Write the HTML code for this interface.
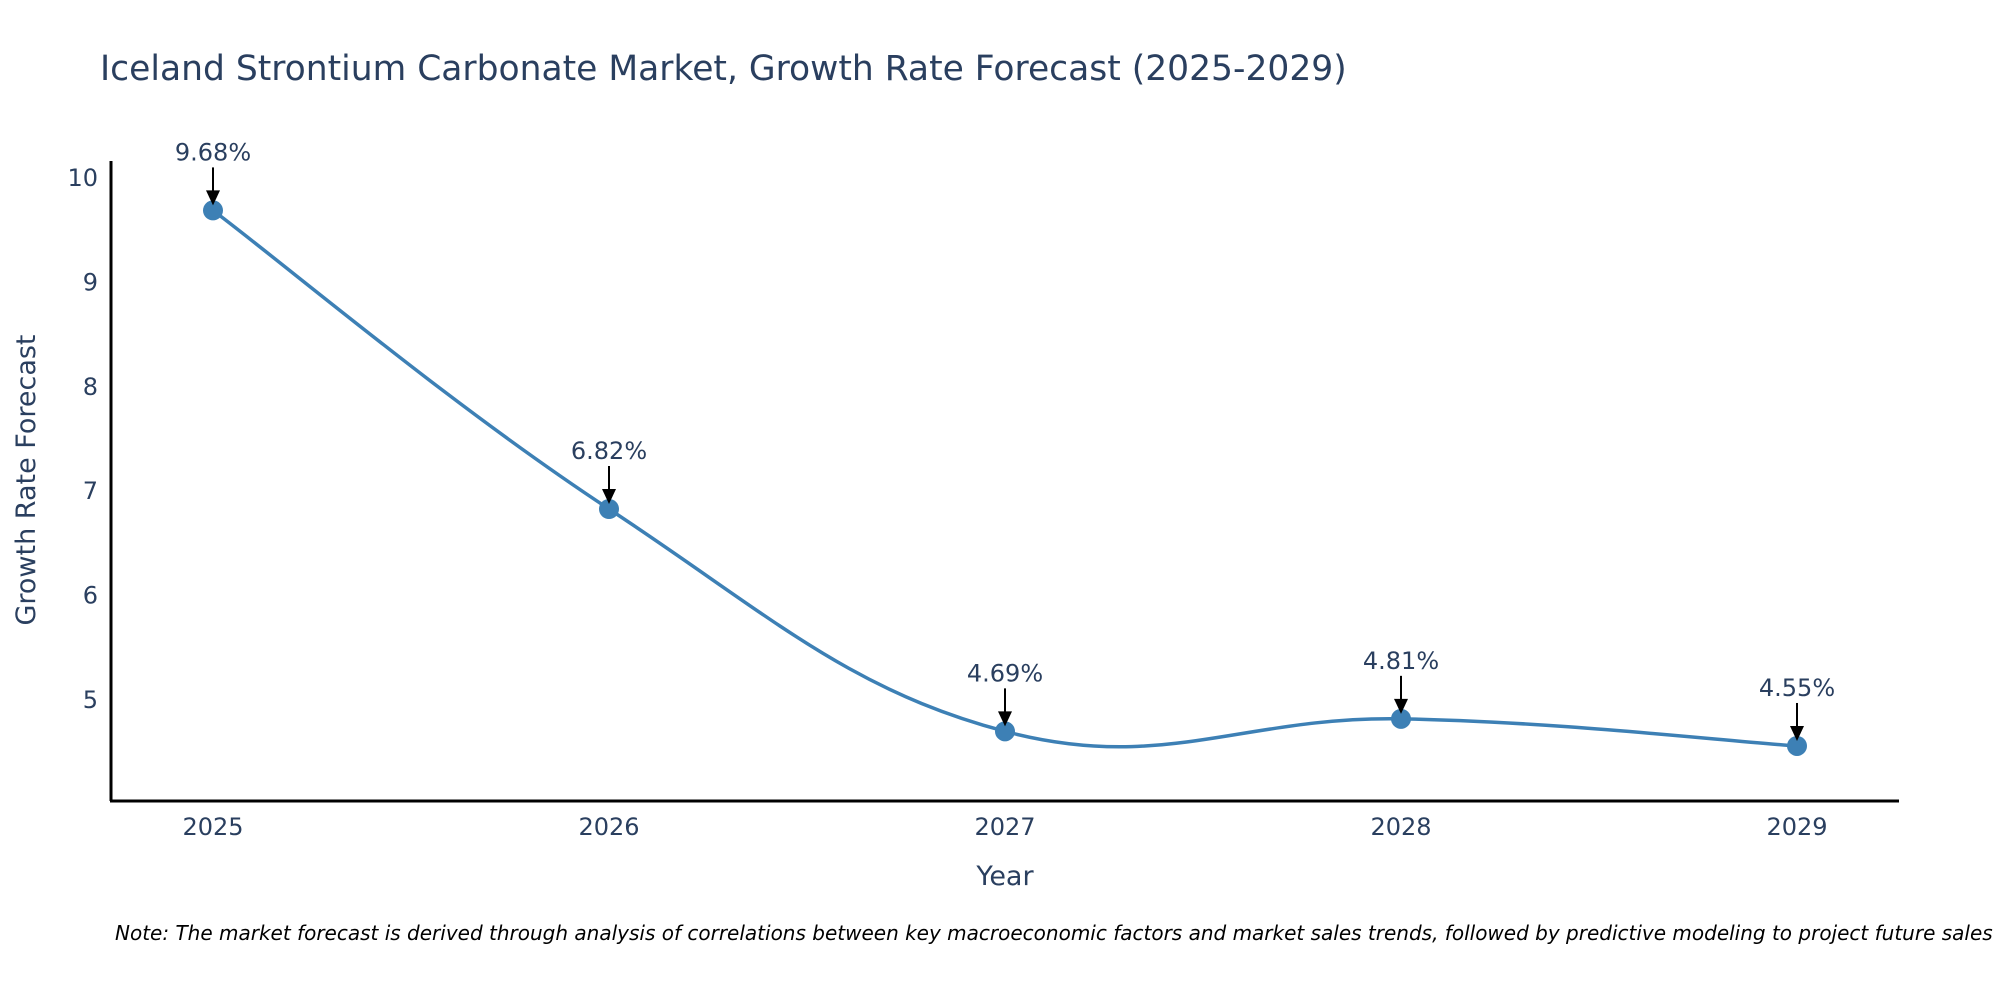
<!DOCTYPE html>
<html><head><meta charset="utf-8"><style>
body{margin:0;background:#fff;}
svg{display:block;font-family:"DejaVu Sans","Liberation Sans",sans-serif;}
</style></head><body>
<svg id="chart" width="2000" height="1000" viewBox="0 0 2000 1000">
<text x="100" y="80" font-size="34.5" fill="#2a3f5f">Iceland Strontium Carbonate Market, Growth Rate Forecast (2025-2029)</text>
<g id="plot"></g>
<text x="1005" y="885" font-size="27" fill="#2a3f5f" text-anchor="middle">Year</text>
<text x="0" y="0" font-size="27" fill="#2a3f5f" text-anchor="middle" transform="translate(35,480) rotate(-90)">Growth Rate Forecast</text>
<text x="115" y="940" font-size="20" font-style="italic" fill="#000">Note: The market forecast is derived through analysis of correlations between key macroeconomic factors and market sales trends, followed by predictive modeling to project future sales</text>
</svg>
<script>
const categories=["2025","2026","2027","2028","2029"];
const values=[9.68,6.82,4.69,4.81,4.55];
const yTicks=[5,6,7,8,9,10];
const labels=["9.68%","6.82%","4.69%","4.81%","4.55%"];
const NS="http://www.w3.org/2000/svg";
const g=document.getElementById('plot');
const x=i=>213+i*396;
const y=v=>699-(v-5)*104.4;
function el(t,a,p){const e=document.createElementNS(NS,t);for(const k in a)e.setAttribute(k,a[k]);(p||g).appendChild(e);return e;}
const ya=el('line',{x1:111,y1:161,x2:111,y2:801,stroke:'#000','stroke-width':3});


const xa=el('line',{x1:110,y1:801,x2:1899,y2:801,stroke:'#000','stroke-width':3});


yTicks.forEach(v=>{const t=el('text',{x:98,y:y(v)+9,'font-size':24,fill:'#2a3f5f','text-anchor':'end'});t.textContent=v;

});
categories.forEach((c,i)=>{const t=el('text',{x:x(i),y:835,'font-size':24,fill:'#2a3f5f','text-anchor':'middle'});t.textContent=c;

});
const P=values.map((v,i)=>[x(i),y(v)]);
let d=`M${P[0][0]},${P[0][1]}`;const s=0.2;
for(let i=0;i<P.length-1;i++){const p0=P[Math.max(i-1,0)],p1=P[i],p2=P[i+1],p3=P[Math.min(i+2,P.length-1)];
d+=` C${p1[0]+(p2[0]-p0[0])*s},${p1[1]+(p2[1]-p0[1])*s} ${p2[0]-(p3[0]-p1[0])*s},${p2[1]-(p3[1]-p1[1])*s} ${p2[0]},${p2[1]}`;}
const line=el('path',{d:d,fill:'none',stroke:'#3d80b5','stroke-width':3.5});


P.forEach((p,i)=>{const c=el('circle',{cx:p[0],cy:p[1],r:10,fill:'#3d80b5'});


const a=el('line',{x1:p[0],y1:p[1]-43,x2:p[0],y2:p[1]-18,stroke:'#000','stroke-width':2});


const h=el('path',{d:`M${p[0]-7},${p[1]-20} L${p[0]+7},${p[1]-20} L${p[0]},${p[1]-5} z`,fill:'#000'});


const t=el('text',{x:p[0],y:p[1]-50,'font-size':24,fill:'#2a3f5f','text-anchor':'middle'});t.textContent=labels[i];

});
</script>
</body></html>
